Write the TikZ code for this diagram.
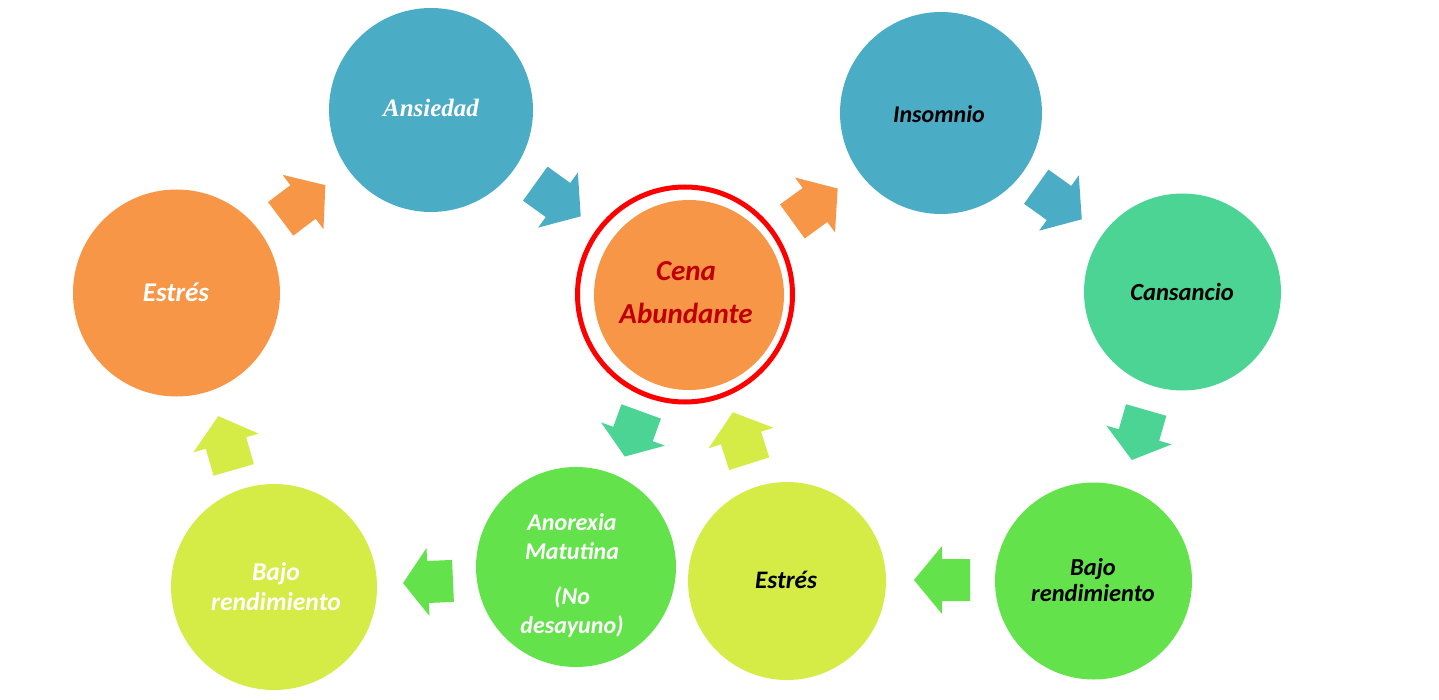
\documentclass[tikz,border=0pt]{standalone}
\usepackage{fontspec}
\setmainfont{Carlito}
\newfontfamily\timesf{Liberation Serif}
\definecolor{corange}{HTML}{F79646}
\definecolor{cblue}{HTML}{4BACC6}
\definecolor{cteal}{HTML}{4BD493}
\definecolor{cgreen}{HTML}{63E24B}
\definecolor{cyellow}{HTML}{D5EC47}
\definecolor{cdred}{HTML}{C00000}
\tikzset{
  bub/.style={circle, inner sep=0pt, draw=none},
  lbl/.style={inner sep=0pt, align=center, font=\fontsize{12}{15}\selectfont\bfseries\itshape},
}
% block arrow: center x, y, angle, colour, half length
\newcommand\blockarr[5]{%
  \fill[#4, shift={(#1,#2)}, rotate=#3]
    (-#5,-21) -- (0,-21) -- (0,-34) -- (#5,0) -- (0,34) -- (0,21) -- (-#5,21) -- cycle;}
\begin{document}
\begin{tikzpicture}[x=0.5pt, y=-0.5pt]
\useasboundingbox (0,0) rectangle (1439,700);
% circles
\node[bub, fill=corange, minimum size=103.5pt] (estresL) at (176.5,293) {};
\node[bub, fill=cblue,   minimum size=102pt]   (ansiedad) at (431,110) {};
\node[bub, fill=corange, minimum size=95pt]    (cena) at (689,295) {};
\node[circle, draw=red, line width=2.5pt, minimum size=107.5pt, inner sep=0pt] (ring) at (685,294.5) {};
\node[bub, fill=cblue,   minimum size=101pt]   (insomnio) at (941,113) {};
\node[bub, fill=cteal,   minimum size=98.5pt]  (cansancio) at (1182.5,292) {};
\node[bub, fill=cgreen,  minimum size=98.5pt]  (bajoR) at (1093.5,581) {};
\node[bub, fill=cyellow, minimum size=99pt]    (estresB) at (787,581) {};
\node[bub, fill=cgreen,  minimum size=100pt]   (anorexia) at (576,567) {};
\node[bub, fill=cyellow, minimum size=103pt]   (bajoL) at (274,587) {};
% labels
\node[lbl, text=white, font=\fontsize{13.5}{15}\selectfont\bfseries\itshape] (t-estresL) at (176,292) {Estrés};
\node[lbl, text=white, font=\fontsize{12.5}{15}\selectfont\timesf\bfseries\itshape] (t-ansiedad) at (431,108) {Ansiedad};
\node[lbl, text=black] (t-insomnio) at (939,114) {Insomnio};
\node[lbl, text=black, font=\fontsize{12.3}{15}\selectfont\bfseries\itshape] (t-cansancio) at (1182,292) {Cansancio};
\node[lbl, text=cdred, font=\fontsize{14.5}{21.5}\selectfont\bfseries\itshape] (t-cena) at (686,293) {Cena\\Abundante};
\node[lbl, text=black, font=\fontsize{12.2}{13}\selectfont\bfseries\itshape] (t-bajoR) at (1093,580) {Bajo\\rendimiento};
\node[lbl, text=black, font=\fontsize{12.6}{15}\selectfont\bfseries\itshape] (t-estresB) at (786,580) {Estrés};
\node[lbl, text=white, font=\fontsize{12}{14.5}\selectfont\bfseries\itshape] (t-anorexia) at (572,575) {Anorexia\\Matutina\\[8pt](No\\desayuno)};
\node[lbl, text=white, font=\fontsize{12.8}{15}\selectfont\bfseries\itshape] (t-bajoL) at (276,587) {Bajo\\rendimiento};
% block arrows
\blockarr{303}{202}{37}{corange}{28}
\blockarr{558}{200}{-35.7}{cblue}{28}
\blockarr{815}{205}{36}{corange}{28}
\blockarr{1059}{203}{-35.6}{cblue}{28}
\blockarr{1139}{435}{-106}{cteal}{26}
\blockarr{942}{580}{180}{cgreen}{28}
\blockarr{428}{582}{182.5}{cgreen}{25}
\blockarr{226}{443}{106}{cyellow}{28}
\blockarr{633}{434}{-110}{cteal}{24}
\blockarr{741}{438}{107.6}{cyellow}{27}
\end{tikzpicture}
\end{document}
